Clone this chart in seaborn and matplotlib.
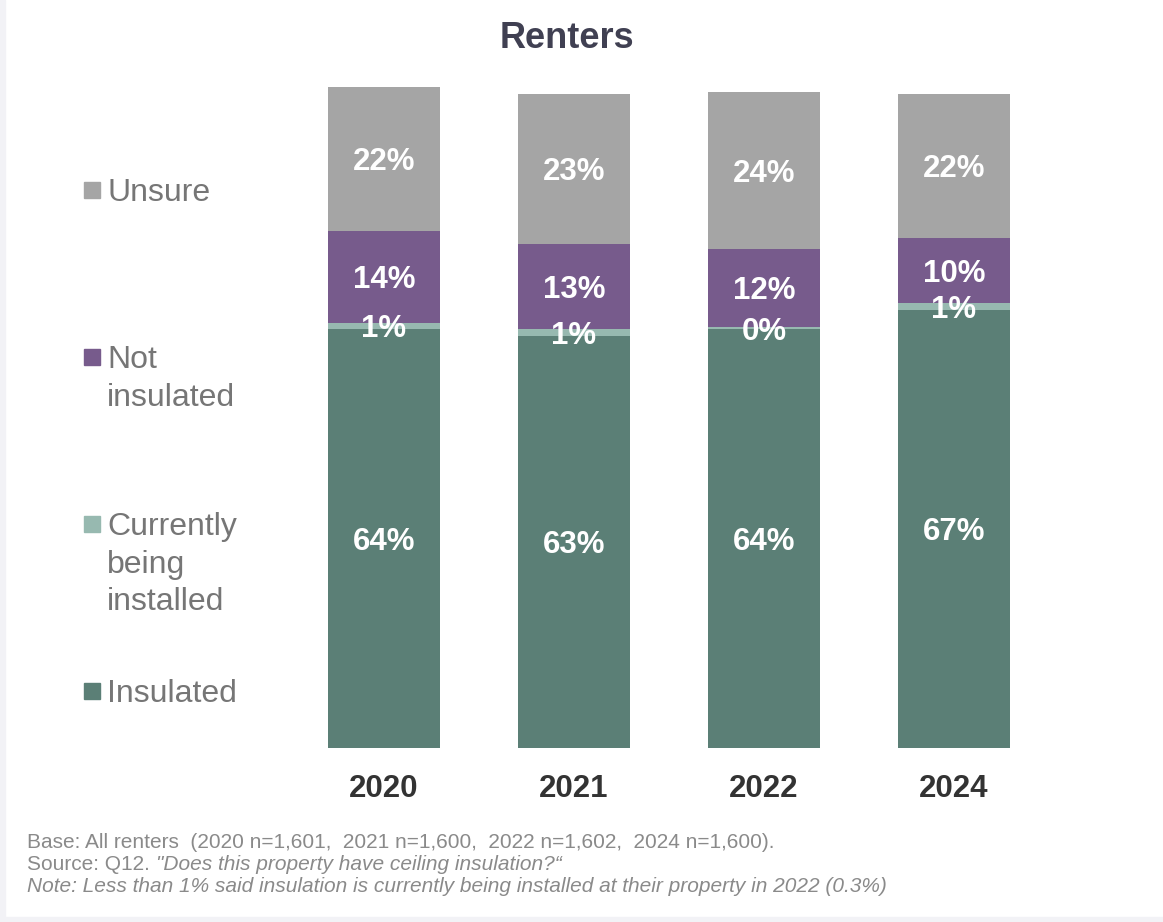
import matplotlib
matplotlib.use("Agg")
import matplotlib.pyplot as plt
import seaborn as sns
import pandas as pd
from matplotlib.patches import Rectangle

# Données (%)
years = ["2020", "2021", "2022", "2024"]
insulated = [64, 63, 64, 67]
being_installed = [1, 1, 0.3, 1]
not_insulated = [14, 13, 12, 10]
unsure = [22, 23, 24, 22]

legend_labels = ["Unsure", "Not\ninsulated", "Currently\nbeing\ninstalled", "Insulated"]
colors = {"Unsure": "#a5a5a5", "Not": "#775b8c", "Current": "#97b9b0", "Insulated": "#5b7f76"}

footnote1 = "Base: All renters  (2020 n=1,601,  2021 n=1,600,  2022 n=1,602,  2024 n=1,600)."
footnote2a = "Source: Q12. "
footnote2b = "\"Does this property have ceiling insulation?\u201c"
footnote3 = "Note: Less than 1% said insulation is currently being installed at their property in 2022 (0.3%)"

sns.set_theme(style="white")
plt.rcParams['font.family'] = ['Liberation Sans', 'DejaVu Sans']

df = pd.DataFrame({"year": years, "ins": insulated, "cur": being_installed,
                   "notins": not_insulated, "unsure": unsure})
df["c1"] = df["ins"]
df["c2"] = df["c1"] + df["cur"]
df["c3"] = df["c2"] + df["notins"]
df["c4"] = df["c3"] + df["unsure"]

W, H = 1163, 922
fig = plt.figure(figsize=(W / 100, H / 100), dpi=100)
ax = fig.add_axes([289 / W, 1 - 748 / H, 760 / W, 687 / H])

# barres empilées : on dessine les cumuls du plus grand au plus petit
for col, c in [("c4", colors["Unsure"]), ("c3", colors["Not"]),
               ("c2", colors["Current"]), ("c1", colors["Insulated"])]:
    sns.barplot(data=df, x="year", y=col, color=c, width=0.59, ax=ax,
                linewidth=0, saturation=1)

ax.set_xlim(-0.5, 3.5)
ax.set_ylim(0, 105)
ax.set_yticks([])
ax.set_xlabel("")
ax.set_ylabel("")
for s in ax.spines.values():
    s.set_visible(False)
ax.tick_params(axis="x", length=0, pad=19, labelsize=22.5, labelcolor="#333333")
for t in ax.get_xticklabels():
    t.set_fontweight("bold")

# étiquettes de valeurs
for i, r in df.iterrows():
    segs = [(0, r["ins"]), (r["c1"], r["cur"]), (r["c2"], r["notins"]), (r["c3"], r["unsure"])]
    for k, (b, v) in enumerate(segs):
        ymid = b + v / 2 - 0.5
        ax.text(i, ymid, f"{v:.0f}%", ha="center", va="center", color="white",
                fontsize=22.5, fontweight="bold")

# légende à gauche
leg_colors = [colors["Unsure"], colors["Not"], colors["Current"], colors["Insulated"]]
for i, (lab, c) in enumerate(zip(legend_labels, leg_colors)):
    yc = 190 + 167 * i
    fig.patches.append(Rectangle((84 / W, 1 - (yc + 8) / H), 16 / W, 16 / H,
                                 transform=fig.transFigure, color=c, figure=fig))
    fig.text(107 / W, 1 - (yc - 12) / H, lab, ha="left", va="top", fontsize=23,
             color="#767676", linespacing=1.33)

# titre
fig.text(567 / W, 1 - 38 / H, "Renters", ha="center", va="center", fontsize=26,
         fontweight="bold", color="#404052")

# notes de bas de page
fc = "#8a8a8a"
fs = 15
fig.text(27 / W, 1 - 842 / H, footnote1, ha="left", va="center", fontsize=fs, color=fc)
t2 = fig.text(27 / W, 1 - 864 / H, footnote2a, ha="left", va="center", fontsize=fs, color=fc)
fig.canvas.draw()
bb = t2.get_window_extent()
fig.text(bb.x1 / W, 1 - 864 / H, footnote2b, ha="left", va="center", fontsize=fs,
         color=fc, style="italic")
fig.text(27 / W, 1 - 886 / H, footnote3, ha="left", va="center", fontsize=fs,
         color=fc, style="italic")

# bordure légère
fig.patches.append(Rectangle((0, 0), 5 / W, 1, transform=fig.transFigure,
                             color="#f2f2f6", figure=fig))
fig.patches.append(Rectangle((0, 0), 1, 5 / H, transform=fig.transFigure,
                             color="#f2f2f6", figure=fig))

fig.savefig("out.png", dpi=100)
